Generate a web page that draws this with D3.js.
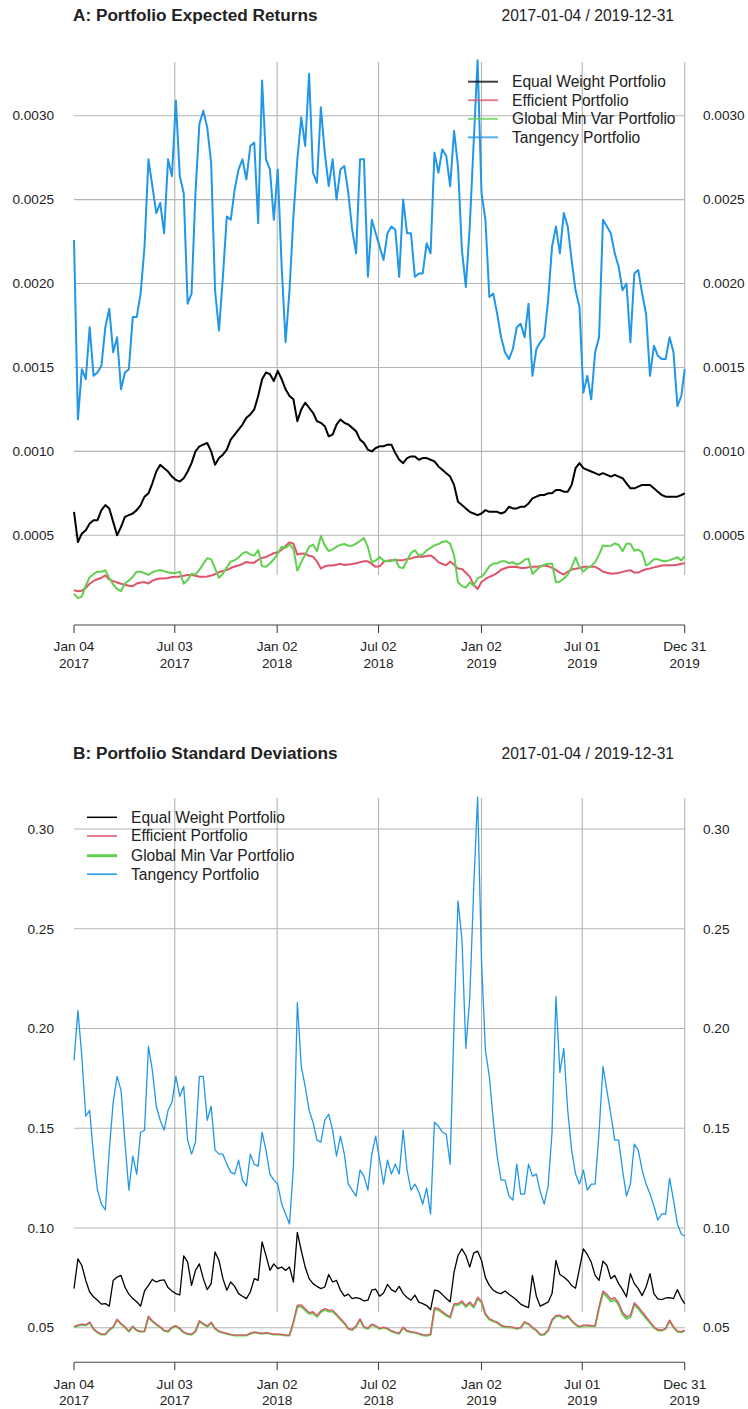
<!DOCTYPE html>
<html>
<head>
<meta charset="utf-8">
<script src="https://cdn.jsdelivr.net/npm/d3@7"></script>
<style>
  html, body { margin: 0; padding: 0; background: #ffffff; }
  svg { display: block; }
  text { font-family: "Liberation Sans", Arial, Helvetica, sans-serif; }
</style>
</head>
<body>
<div id="chart"></div>
<script>
// ---------------- DATA ----------------
const startDate = "2017-01-04";
const endDate = "2019-12-31";
const stepDays = 7; // weekly observations, last one on endDate

const seriesNames = ["Equal Weight Portfolio", "Efficient Portfolio", "Global Min Var Portfolio", "Tangency Portfolio"];
const seriesColors = ["#000000", "#DF536B", "#61D04F", "#2297E6"];

const tickDates = ["2017-01-04", "2017-07-03", "2018-01-02", "2018-07-02", "2019-01-02", "2019-07-01", "2019-12-31"];

const retTicks = [0.0005, 0.0010, 0.0015, 0.0020, 0.0025, 0.0030];
const sdTicks = [0.05, 0.10, 0.15, 0.20, 0.25, 0.30];

// Panel A: expected returns
const retEqual = [
0.00064,0.00046,0.00051,0.00053,0.00057,0.00059,0.00059,0.00065,0.00068,0.00066,
0.00058,0.00050,0.00055,0.00061,0.00062,0.00063,0.00065,0.00068,0.00073,0.00075,
0.00081,0.00088,0.00092,0.00090,0.00088,0.00085,0.00083,0.00082,0.00084,0.00088,
0.00093,0.00100,0.00103,0.00104,0.00105,0.00100,0.00092,0.00096,0.00098,0.00101,
0.00107,0.00110,0.00113,0.00116,0.00120,0.00122,0.00125,0.00133,0.00143,0.00147,
0.00146,0.00142,0.00148,0.00143,0.00137,0.00133,0.00131,0.00118,0.00125,0.00129,
0.00126,0.00123,0.00118,0.00117,0.00115,0.00109,0.00110,0.00116,0.00119,0.00117,
0.00116,0.00114,0.00112,0.00107,0.00105,0.00101,0.00100,0.00102,0.00103,0.00103,
0.00104,0.00104,0.00099,0.00095,0.00093,0.00096,0.00097,0.00097,0.00095,0.00096,
0.00096,0.00095,0.00094,0.00091,0.00089,0.00087,0.00085,0.00080,0.00070,0.00068,
0.00066,0.00064,0.00063,0.00062,0.00063,0.00065,0.00064,0.00064,0.00064,0.00063,
0.00064,0.00067,0.00066,0.00066,0.00067,0.00067,0.00069,0.00072,0.00073,0.00074,
0.00074,0.00075,0.00075,0.00077,0.00077,0.00076,0.00076,0.00080,0.00090,0.00093,
0.00090,0.00089,0.00088,0.00087,0.00086,0.00087,0.00086,0.00085,0.00086,0.00085,
0.00084,0.00081,0.00078,0.00078,0.00079,0.00080,0.00080,0.00080,0.00078,0.00076,
0.00074,0.00073,0.00073,0.00073,0.00073,0.00074,0.00075];

const retEfficient = [
0.000173,0.000167,0.000170,0.000186,0.000211,0.000228,0.000238,0.000247,0.000261,0.000237,
0.000227,0.000219,0.000211,0.000205,0.000199,0.000197,0.000213,0.000219,0.000221,0.000213,
0.000230,0.000238,0.000243,0.000243,0.000246,0.000251,0.000253,0.000253,0.000259,0.000263,
0.000263,0.000259,0.000253,0.000253,0.000254,0.000260,0.000268,0.000280,0.000288,0.000293,
0.000305,0.000314,0.000320,0.000330,0.000341,0.000336,0.000337,0.000354,0.000365,0.000371,
0.000382,0.000393,0.000399,0.000413,0.000436,0.000458,0.000450,0.000385,0.000392,0.000390,
0.000378,0.000373,0.000345,0.000302,0.000315,0.000320,0.000320,0.000325,0.000330,0.000323,
0.000326,0.000329,0.000334,0.000340,0.000345,0.000345,0.000330,0.000312,0.000315,0.000342,
0.000349,0.000352,0.000352,0.000352,0.000352,0.000358,0.000362,0.000370,0.000372,0.000372,
0.000377,0.000380,0.000364,0.000340,0.000329,0.000322,0.000344,0.000325,0.000302,0.000299,
0.000277,0.000254,0.000205,0.000180,0.000222,0.000240,0.000252,0.000262,0.000276,0.000295,
0.000304,0.000311,0.000312,0.000311,0.000305,0.000305,0.000310,0.000312,0.000312,0.000316,
0.000320,0.000315,0.000306,0.000294,0.000278,0.000266,0.000284,0.000296,0.000301,0.000305,
0.000312,0.000312,0.000312,0.000312,0.000300,0.000283,0.000277,0.000273,0.000273,0.000276,
0.000282,0.000288,0.000292,0.000278,0.000278,0.000290,0.000298,0.000302,0.000309,0.000314,
0.000320,0.000322,0.000322,0.000322,0.000324,0.000330,0.000333];

const retGMV = [
0.000153,0.000126,0.000135,0.000200,0.000250,0.000270,0.000283,0.000283,0.000292,0.000245,
0.000207,0.000180,0.000168,0.000213,0.000231,0.000252,0.000283,0.000283,0.000274,0.000264,
0.000280,0.000288,0.000293,0.000286,0.000280,0.000275,0.000276,0.000283,0.000212,0.000233,
0.000271,0.000265,0.000294,0.000330,0.000363,0.000358,0.000303,0.000247,0.000271,0.000309,
0.000343,0.000351,0.000368,0.000392,0.000401,0.000385,0.000379,0.000412,0.000315,0.000312,
0.000332,0.000357,0.000390,0.000432,0.000424,0.000445,0.000420,0.000290,0.000340,0.000385,
0.000432,0.000445,0.000405,0.000495,0.000440,0.000406,0.000416,0.000432,0.000443,0.000448,
0.000437,0.000438,0.000450,0.000466,0.000483,0.000430,0.000340,0.000350,0.000370,0.000350,
0.000345,0.000346,0.000358,0.000310,0.000305,0.000350,0.000395,0.000410,0.000380,0.000385,
0.000410,0.000425,0.000440,0.000448,0.000461,0.000465,0.000450,0.000380,0.000220,0.000197,
0.000188,0.000220,0.000200,0.000245,0.000253,0.000280,0.000315,0.000332,0.000332,0.000345,
0.000345,0.000335,0.000340,0.000325,0.000335,0.000355,0.000360,0.000270,0.000292,0.000312,
0.000325,0.000330,0.000332,0.000220,0.000225,0.000243,0.000265,0.000310,0.000368,0.000310,
0.000285,0.000305,0.000317,0.000340,0.000385,0.000440,0.000435,0.000437,0.000452,0.000442,
0.000405,0.000450,0.000450,0.000408,0.000415,0.000398,0.000320,0.000335,0.000357,0.000358,
0.000348,0.000345,0.000352,0.000360,0.000370,0.000350,0.000375];

const retTangency = [
0.00226,0.00119,0.00149,0.00143,0.00174,0.00145,0.00147,0.00151,0.00174,0.00185,
0.00159,0.00168,0.00137,0.00147,0.00149,0.00180,0.00180,0.00194,0.00222,0.00274,
0.00258,0.00242,0.00248,0.00230,0.00274,0.00264,0.00309,0.00264,0.00254,0.00188,
0.00194,0.00254,0.00295,0.00303,0.00293,0.00272,0.00196,0.00172,0.00204,0.00240,
0.00238,0.00256,0.00268,0.00274,0.00262,0.00282,0.00284,0.00236,0.00321,0.00274,
0.00268,0.00238,0.00268,0.00210,0.00165,0.00196,0.00240,0.00274,0.00299,0.00282,
0.00325,0.00266,0.00260,0.00305,0.00278,0.00258,0.00274,0.00250,0.00268,0.00270,
0.00254,0.00232,0.00218,0.00274,0.00274,0.00204,0.00238,0.00230,0.00222,0.00214,
0.00230,0.00234,0.00232,0.00204,0.00250,0.00230,0.00230,0.00204,0.00206,0.00206,
0.00224,0.00218,0.00278,0.00266,0.00280,0.00276,0.00258,0.00291,0.00270,0.00220,
0.00198,0.00234,0.00284,0.00333,0.00254,0.00238,0.00192,0.00194,0.00182,0.00168,
0.00159,0.00155,0.00161,0.00174,0.00176,0.00168,0.00188,0.00145,0.00161,0.00165,
0.00168,0.00190,0.00222,0.00234,0.00218,0.00242,0.00234,0.00214,0.00196,0.00186,
0.00135,0.00145,0.00131,0.00159,0.00168,0.00238,0.00234,0.00230,0.00218,0.00210,
0.00196,0.00200,0.00165,0.00206,0.00208,0.00194,0.00182,0.00145,0.00163,0.00157,
0.00155,0.00155,0.00168,0.00159,0.00127,0.00133,0.00149];

// Panel B: standard deviations
const sdEqual = [
0.0696,0.0845,0.0812,0.0737,0.0679,0.0654,0.0638,0.0618,0.0621,0.0608,
0.0737,0.0754,0.0762,0.0704,0.0668,0.0646,0.0630,0.0608,0.0684,0.0712,
0.0742,0.0729,0.0737,0.0740,0.0701,0.0684,0.0671,0.0664,0.0860,0.0829,
0.0712,0.0787,0.0820,0.0746,0.0691,0.0721,0.0880,0.0837,0.0746,0.0688,
0.0729,0.0707,0.0671,0.0658,0.0646,0.0679,0.0746,0.0737,0.0930,0.0862,
0.0787,0.0820,0.0796,0.0804,0.0787,0.0804,0.0729,0.0978,0.0887,0.0804,
0.0746,0.0721,0.0707,0.0696,0.0704,0.0767,0.0729,0.0737,0.0688,0.0658,
0.0668,0.0646,0.0651,0.0646,0.0634,0.0638,0.0688,0.0693,0.0658,0.0674,
0.0717,0.0691,0.0679,0.0707,0.0671,0.0651,0.0638,0.0663,0.0628,0.0621,
0.0611,0.0591,0.0688,0.0684,0.0666,0.0646,0.0630,0.0779,0.0862,0.0895,
0.0862,0.0804,0.0874,0.0884,0.0837,0.0751,0.0712,0.0688,0.0676,0.0671,
0.0684,0.0668,0.0654,0.0638,0.0618,0.0608,0.0601,0.0762,0.0658,0.0608,
0.0618,0.0628,0.0671,0.0837,0.0767,0.0754,0.0737,0.0712,0.0698,0.0796,
0.0895,0.0867,0.0829,0.0762,0.0737,0.0834,0.0812,0.0746,0.0762,0.0721,
0.0691,0.0654,0.0771,0.0721,0.0696,0.0661,0.0704,0.0771,0.0671,0.0644,
0.0641,0.0649,0.0651,0.0646,0.0691,0.0646,0.0621];

const sdEfficient = [
0.0505,0.0513,0.0518,0.0515,0.0528,0.0495,0.0478,0.0468,0.0468,0.0491,
0.0505,0.0543,0.0521,0.0505,0.0483,0.0508,0.0488,0.0482,0.0483,0.0558,
0.0535,0.0518,0.0505,0.0487,0.0483,0.0503,0.0510,0.0497,0.0478,0.0470,
0.0467,0.0483,0.0535,0.0521,0.0508,0.0528,0.0497,0.0483,0.0477,0.0472,
0.0467,0.0463,0.0463,0.0463,0.0463,0.0473,0.0478,0.0475,0.0472,0.0475,
0.0472,0.0468,0.0468,0.0467,0.0463,0.0463,0.0530,0.0613,0.0614,0.0595,
0.0576,0.0580,0.0561,0.0585,0.0596,0.0588,0.0588,0.0568,0.0546,0.0525,
0.0497,0.0491,0.0510,0.0545,0.0505,0.0498,0.0518,0.0510,0.0497,0.0503,
0.0497,0.0485,0.0478,0.0473,0.0503,0.0485,0.0480,0.0477,0.0472,0.0465,
0.0463,0.0468,0.0601,0.0596,0.0581,0.0566,0.0555,0.0621,0.0621,0.0634,
0.0611,0.0629,0.0608,0.0653,0.0634,0.0571,0.0546,0.0536,0.0528,0.0513,
0.0505,0.0505,0.0503,0.0497,0.0502,0.0530,0.0521,0.0502,0.0488,0.0467,
0.0468,0.0488,0.0541,0.0561,0.0563,0.0551,0.0561,0.0538,0.0518,0.0505,
0.0513,0.0513,0.0511,0.0510,0.0605,0.0684,0.0668,0.0643,0.0651,0.0625,
0.0578,0.0555,0.0563,0.0625,0.0605,0.0580,0.0555,0.0530,0.0505,0.0491,
0.0488,0.0497,0.0538,0.0505,0.0483,0.0480,0.0488];

const sdGMV = [
0.0502,0.0510,0.0515,0.0512,0.0525,0.0492,0.0475,0.0466,0.0466,0.0488,
0.0502,0.0538,0.0518,0.0502,0.0480,0.0505,0.0486,0.0480,0.0481,0.0552,
0.0531,0.0515,0.0502,0.0485,0.0480,0.0500,0.0507,0.0494,0.0476,0.0468,
0.0465,0.0480,0.0530,0.0518,0.0505,0.0524,0.0494,0.0481,0.0475,0.0470,
0.0465,0.0461,0.0461,0.0461,0.0461,0.0470,0.0476,0.0473,0.0470,0.0473,
0.0470,0.0466,0.0466,0.0465,0.0461,0.0461,0.0525,0.0605,0.0606,0.0588,
0.0570,0.0573,0.0555,0.0578,0.0589,0.0581,0.0581,0.0562,0.0541,0.0521,
0.0494,0.0488,0.0506,0.0540,0.0501,0.0495,0.0515,0.0507,0.0494,0.0500,
0.0494,0.0482,0.0475,0.0470,0.0500,0.0482,0.0477,0.0474,0.0469,0.0462,
0.0460,0.0465,0.0594,0.0589,0.0575,0.0560,0.0550,0.0614,0.0614,0.0627,
0.0604,0.0622,0.0601,0.0646,0.0627,0.0565,0.0541,0.0532,0.0524,0.0510,
0.0502,0.0502,0.0500,0.0494,0.0499,0.0526,0.0517,0.0499,0.0485,0.0464,
0.0465,0.0485,0.0536,0.0556,0.0558,0.0546,0.0556,0.0534,0.0515,0.0502,
0.0510,0.0510,0.0508,0.0507,0.0598,0.0674,0.0656,0.0632,0.0640,0.0614,
0.0566,0.0545,0.0553,0.0615,0.0596,0.0571,0.0547,0.0524,0.0500,0.0487,
0.0485,0.0494,0.0534,0.0502,0.0480,0.0477,0.0485];

const sdTangency = [
0.184,0.209,0.186,0.156,0.159,0.136,0.119,0.112,0.109,0.139,
0.163,0.176,0.169,0.143,0.119,0.136,0.127,0.148,0.149,0.191,
0.179,0.161,0.154,0.149,0.159,0.163,0.176,0.166,0.171,0.144,
0.137,0.143,0.176,0.176,0.154,0.161,0.139,0.137,0.137,0.132,
0.128,0.127,0.134,0.124,0.121,0.137,0.132,0.131,0.148,0.139,
0.127,0.124,0.122,0.112,0.107,0.102,0.131,0.213,0.181,0.171,
0.159,0.153,0.144,0.143,0.154,0.157,0.149,0.136,0.146,0.137,
0.122,0.119,0.116,0.129,0.126,0.119,0.137,0.146,0.134,0.122,
0.134,0.127,0.132,0.127,0.149,0.129,0.119,0.122,0.118,0.112,
0.120,0.107,0.153,0.151,0.148,0.147,0.132,0.203,0.264,0.245,
0.190,0.215,0.270,0.316,0.234,0.189,0.176,0.154,0.136,0.124,
0.124,0.116,0.114,0.132,0.117,0.117,0.132,0.126,0.127,0.118,
0.112,0.121,0.148,0.216,0.178,0.190,0.159,0.139,0.127,0.122,
0.129,0.119,0.122,0.122,0.148,0.181,0.169,0.157,0.144,0.144,
0.129,0.116,0.122,0.142,0.139,0.129,0.122,0.117,0.111,0.104,
0.107,0.107,0.125,0.114,0.102,0.097,0.096];

// ---------------- BUILD ----------------
const parse = d3.timeParse("%Y-%m-%d");
const t0 = parse(startDate), t1 = parse(endDate);
const dates = [];
for (let d = t0; d < t1; d = d3.timeDay.offset(d, stepDays)) dates.push(d);
dates.push(t1);

const allSeries = {retEqual, retEfficient, retGMV, retTangency, sdEqual, sdEfficient, sdGMV, sdTangency};
for (const [k, v] of Object.entries(allSeries)) {
  if (v.length !== dates.length) throw new Error(k + " length " + v.length + " vs dates " + dates.length);
}

const W = 748, H = 1409;
const svg = d3.select("#chart").append("svg").attr("width", W).attr("height", H);
svg.append("rect").attr("width", W).attr("height", H).attr("fill", "#fff");

const x = d3.scaleTime().domain([t0, t1]).range([74, 684.7]);
const ticksX = tickDates.map(parse);
const fmtMD = d3.timeFormat("%b %d"), fmtY = d3.timeFormat("%Y");

const gridColor = "#b4b4b4";
const textColor = "#222";

function panel(cfg) {
  const g = svg.append("g");
  const y = d3.scaleLinear().domain(cfg.domain).range(cfg.range);

  // titles
  g.append("text").attr("x", 73).attr("y", cfg.titleY).attr("dy", "0.35em")
    .attr("font-size", 17.2).attr("font-weight", "bold").attr("fill", textColor).text(cfg.title);
  g.append("text").attr("x", 674).attr("y", cfg.titleY + 0.5).attr("dy", "0.35em")
    .attr("text-anchor", "end").attr("font-size", 15.6).attr("fill", textColor)
    .text(startDate + " / " + endDate);

  // horizontal grid + y labels
  cfg.ticks.forEach(t => {
    g.append("line").attr("x1", 74).attr("x2", 684.7).attr("y1", y(t)).attr("y2", y(t))
      .attr("stroke", gridColor).attr("stroke-width", 1.1);
    g.append("text").attr("x", 54).attr("y", y(t)).attr("dy", "0.35em").attr("text-anchor", "end")
      .attr("font-size", 13.6).attr("fill", textColor).text(cfg.fmt(t));
    g.append("text").attr("x", 703).attr("y", y(t)).attr("dy", "0.35em").attr("text-anchor", "start")
      .attr("font-size", 13.6).attr("fill", textColor).text(cfg.fmt(t));
  });

  // vertical grid
  ticksX.slice(1).forEach(d => {
    g.append("line").attr("x1", x(d)).attr("x2", x(d)).attr("y1", cfg.gridTop).attr("y2", cfg.gridBottom)
      .attr("stroke", gridColor).attr("stroke-width", 1.1);
  });

  // x axis
  const axisY = cfg.axisY;
  g.append("line").attr("x1", x(t0)).attr("x2", x(t1)).attr("y1", axisY).attr("y2", axisY)
    .attr("stroke", "#444").attr("stroke-width", 1.1);
  ticksX.forEach(d => {
    g.append("line").attr("x1", x(d)).attr("x2", x(d)).attr("y1", axisY).attr("y2", axisY + 8)
      .attr("stroke", "#444").attr("stroke-width", 1.1);
    g.append("text").attr("x", x(d)).attr("y", axisY + 21.5).attr("dy", "0.35em").attr("text-anchor", "middle")
      .attr("font-size", 13.6).attr("fill", textColor).text(fmtMD(d));
    g.append("text").attr("x", x(d)).attr("y", axisY + 38).attr("dy", "0.35em").attr("text-anchor", "middle")
      .attr("font-size", 13.6).attr("fill", textColor).text(fmtY(d));
  });

  // series
  const line = d3.line().x((d, i) => x(dates[i])).y(d => y(d));
  cfg.order.forEach(k => {
    g.append("path").datum(cfg.data[k]).attr("d", line).attr("fill", "none")
      .attr("stroke", seriesColors[k]).attr("stroke-width", cfg.widths[k])
      .attr("stroke-linejoin", "round");
  });

  // legend
  seriesNames.forEach((name, i) => {
    const ly = cfg.legendY[i];
    g.append("line").attr("x1", cfg.legendX).attr("x2", cfg.legendX + 30).attr("y1", ly).attr("y2", ly)
      .attr("stroke", seriesColors[i]).attr("stroke-width", cfg.legendWidths[i])
      .attr("stroke-opacity", cfg.legendOpacity);
    g.append("text").attr("x", cfg.legendX + 44).attr("y", ly).attr("dy", "0.35em")
      .attr("font-size", 15.6).attr("fill", textColor).text(name);
  });
}

panel({
  title: "A: Portfolio Expected Returns",
  titleY: 15,
  domain: [0.0005, 0.0030], range: [535.3, 115.7],
  ticks: retTicks, fmt: d3.format(".4f"),
  gridTop: 62, gridBottom: 575, axisY: 625,
  data: [retEqual, retEfficient, retGMV, retTangency],
  order: [0, 1, 2, 3],
  widths: [2, 2, 2, 2],
  legendX: 468, legendY: [81.7, 100.2, 118.9, 137.3],
  legendWidths: [2, 2, 2, 2], legendOpacity: 0.75
});

panel({
  title: "B: Portfolio Standard Deviations",
  titleY: 752.8,
  domain: [0.05, 0.30], range: [1327.7, 829],
  ticks: sdTicks, fmt: d3.format(".2f"),
  gridTop: 798, gridBottom: 1312, axisY: 1362.3,
  data: [sdEqual, sdEfficient, sdGMV, sdTangency],
  order: [0, 2, 1, 3],
  widths: [1.3, 1.3, 2, 1.3],
  legendX: 87, legendY: [817.3, 836, 855.7, 874.2],
  legendWidths: [1.5, 1.5, 3, 1.5], legendOpacity: 1
});
</script>
</body>
</html>
